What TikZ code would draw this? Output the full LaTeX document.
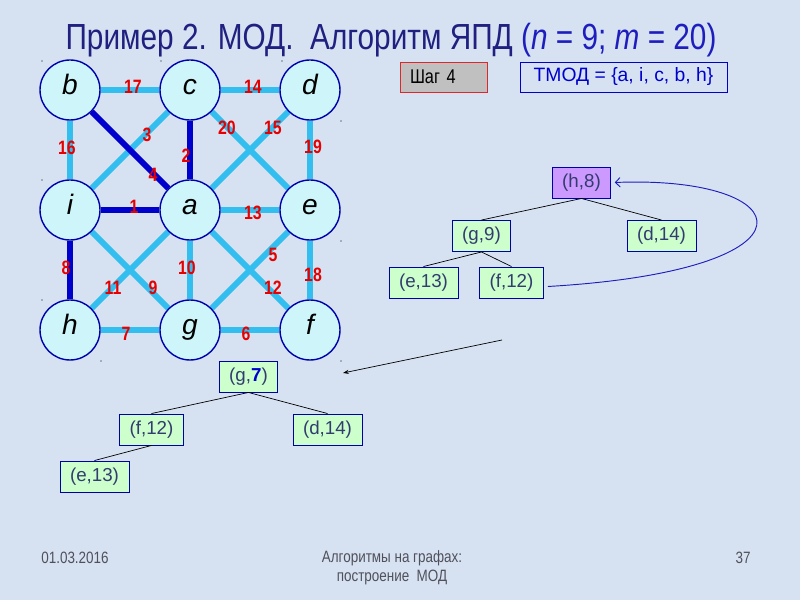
\documentclass[tikz,border=0pt]{standalone}
\usepackage{fontspec}
\setmainfont{Liberation Sans}
\newfontfamily\narrowfont[FakeStretch=0.82]{Liberation Sans}
\usetikzlibrary{arrows.meta,positioning}
\definecolor{slidebg}{RGB}{214,226,242}
\definecolor{vtxfill}{RGB}{206,246,250}
\definecolor{vtxdraw}{RGB}{0,0,170}
\definecolor{edgelight}{RGB}{51,190,240}
\definecolor{edgedark}{RGB}{0,0,204}
\definecolor{wtred}{RGB}{230,0,0}
\definecolor{heapfill}{RGB}{204,255,204}
\definecolor{heaptext}{RGB}{50,60,110}
\definecolor{rootfill}{RGB}{204,153,255}
\definecolor{titlenavy}{RGB}{32,32,128}
\definecolor{titleblue}{RGB}{30,30,190}
\definecolor{footgray}{RGB}{80,80,90}
\definecolor{stepred}{RGB}{220,40,40}
\definecolor{stepgray}{RGB}{192,192,192}
\pgfdeclarelayer{bg}
\pgfdeclarelayer{edgelayer}
\pgfsetlayers{bg,edgelayer,main}

\begin{document}
\begin{tikzpicture}[x=0.03cm, y=-0.03cm,
    vtx/.style={circle, draw=vtxdraw, fill=vtxfill, line width=1.2pt, minimum size=1.8cm, inner sep=0pt, text height=0.72em, text depth=0pt, font=\fontsize{24}{24}\selectfont\itshape},
    lite/.style={draw=edgelight, line width=5pt},
    dark/.style={draw=edgedark, line width=5pt},
    wt/.style={text=wtred, inner sep=0pt, font=\narrowfont\fontsize{16.5}{16.5}\selectfont\bfseries},
    heap/.style={draw=vtxdraw, fill=heapfill, text=heaptext, line width=0.8pt, minimum height=0.93cm, inner xsep=0.3cm, font=\fontsize{16}{16}\selectfont},
    tree/.style={draw=black, line width=0.6pt}
  ]
  \useasboundingbox (0,0) rectangle (800,600);
  \begin{pgfonlayer}{bg}
    \fill[slidebg] (0,0) rectangle (800,600);
  \end{pgfonlayer}

  % title
  \node[text=titlenavy, font=\narrowfont\fontsize{31}{33}\selectfont] (title) at (391,40)
    {Пример 2. МОД.\ \ Алгоритм ЯПД \textcolor{titleblue}{(\textit{n} = 9; \textit{m} = 20)}};

  % graph
  \node[vtx] (b) at (70,90) {b};
  \node[vtx] (c) at (190,90) {c};
  \node[vtx] (d) at (310,90) {d};
  \node[vtx] (i) at (70,210) {i};
  \node[vtx] (a) at (190,210) {a};
  \node[vtx] (e) at (310,210) {e};
  \node[vtx] (h) at (70,330) {h};
  \node[vtx] (g) at (190,330) {g};
  \node[vtx] (f) at (310,330) {f};

  \begin{pgfonlayer}{edgelayer}
    \foreach \p/\q in {b/c, c/d, b/i, d/e, e/f, h/g, g/f, a/e, a/g, c/i, c/e, d/a, i/g, a/h, a/f, e/g}
      \draw[lite] (\p) -- (\q);
    \foreach \p/\q in {i/h, i/a, c/a, b/a}
      \draw[dark] (\p) -- (\q);
    \foreach \x/\y [count=\k] in {42/61, 161/61, 282/61, 42/180, 42/300, 101/361, 341/121, 341/241, 341/361}
      \fill (\x,\y) circle (0.6pt) coordinate (dot\k);
  \end{pgfonlayer}

  \foreach \w/\x/\y in {17/133/87, 14/253/87, 16/67/148, 3/147/135, 20/227/128, 15/273/128,
      19/313/147, 2/186/156, 4/153/175, 1/134/207, 13/253/213, 8/66/268, 10/187/268,
      5/273/255, 18/313/275, 11/113/288, 9/153/288, 12/273/288, 7/126/334, 6/246/334}
    \node[wt] (w\w) at (\x,\y) {\w};

  % step and tree set
  \node[draw=stepred, fill=stepgray, line width=0.8pt, text width=2.01cm, minimum height=0.9cm,
    inner xsep=0.3cm, align=left, font=\narrowfont\fontsize{17}{17}\selectfont] (stepbox) at (443.5,77) {Шаг 4};
  \node[draw=edgedark, line width=0.8pt, text=edgedark, minimum width=6.21cm, minimum height=0.9cm,
    font=\fontsize{16.5}{16.5}\selectfont] (tmod) at (623.5,77) {ТМОД = \{a, i, c, b, h\}};

  % heap before the step
  \node[heap, fill=rootfill] (h8) at (581.5,182.5) {(h,8)};
  \node[heap] (g9) at (481.5,236) {(g,9)};
  \node[heap] (d14a) at (661.5,236) {(d,14)};
  \node[heap] (e13a) at (423.5,282.5) {(e,13)};
  \node[heap] (f12a) at (511.5,282.5) {(f,12)};
  \draw[tree] (h8.south) -- (g9.north);
  \draw[tree] (h8.south) -- (d14a.north);
  \draw[tree] (g9.south) -- (e13a.north);
  \draw[tree] (g9.south) -- (f12a.north);
  \draw[titleblue, line width=0.8pt, -{Straight Barb[length=4pt,width=8pt]}]
    ([shift={(4,4)}]f12a.east) .. controls (830,270) and (800,175) .. ([xshift=3pt]h8.east);

  % heap after the step
  \coordinate (ptrfrom) at (502,340);
  \coordinate (ptrto) at (343,373);
  \draw[line width=0.6pt, -{Stealth[length=5pt,width=3.5pt]}] (ptrfrom) -- (ptrto);

  \node[heap] (g7) at (248.5,376.5) {(g,\textcolor{edgedark}{\bfseries 7})};
  \node[heap] (f12b) at (151.5,429.5) {(f,12)};
  \node[heap] (d14b) at (327.5,429.5) {(d,14)};
  \node[heap] (e13b) at (94.5,476.5) {(e,13)};
  \draw[tree] (g7.south) -- (f12b.north);
  \draw[tree] (g7.south) -- (d14b.north);
  \draw[tree] (f12b.south) -- (e13b.north);

  % footer
  \node[text=footgray, font=\narrowfont\fontsize{14}{14}\selectfont] (date) at (75,558) {01.03.2016};
  \node[text=footgray, font=\narrowfont\fontsize{14}{16}\selectfont, align=center] (topic) at (392,568)
    {Алгоритмы на графах:\\построение\ \ МОД};
  \node[text=footgray, font=\narrowfont\fontsize{14}{14}\selectfont] (pageno) at (743,558) {37};
\end{tikzpicture}
\end{document}
